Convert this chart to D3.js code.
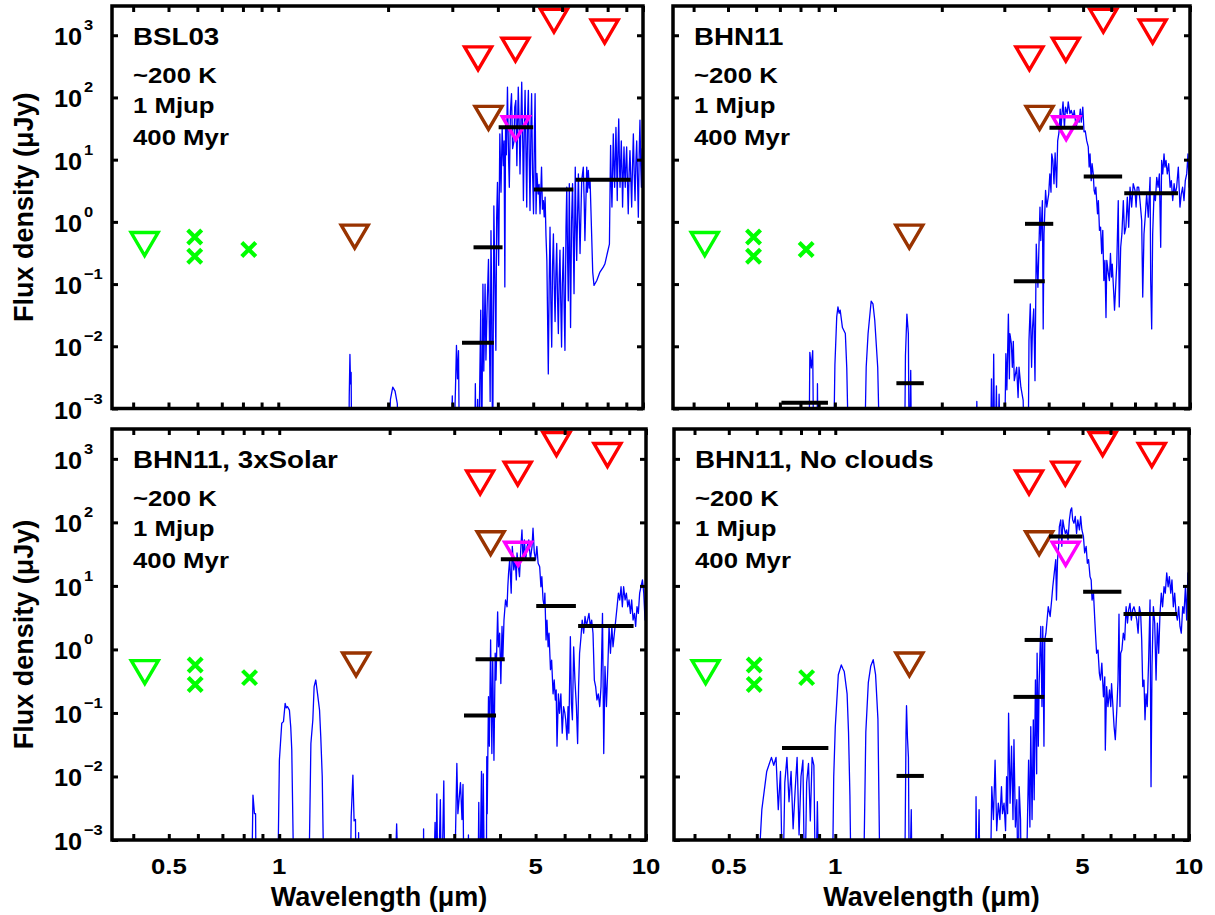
<!DOCTYPE html>
<html><head><meta charset="utf-8">
<script src="https://cdn.jsdelivr.net/npm/d3@7/dist/d3.min.js"></script>
<style>
body{margin:0;background:#fff}
text{font-family:"Liberation Sans",Arial,Helvetica,sans-serif;font-weight:bold;fill:#000}
</style>
</head><body>
<svg id="c" width="1215" height="915"></svg>
<script>
// ---------------- data ----------------
const panelTitles = ["BSL03", "BHN11", "BHN11, 3xSolar", "BHN11, No clouds"];
const infoLines = ["~200 K", "1 Mjup", "400 Myr"];
const xTickLabels = [0.5, 1, 5, 10];
const xTickMarks = [0.4,0.5,0.6,0.7,0.8,0.9,1,2,3,4,5,6,7,8,9,10];
const yTickExps = [-3, -2, -1, 0, 1, 2, 3];

// observed limits / detections (wavelength um, flux uJy)
const opticalLimitWl = [0.43], opticalLimitFlux = [0.44];
const opticalDetWl = [0.59, 0.59, 0.83], opticalDetFlux = [0.57, 0.28, 0.36];
const nirLimitWl = [1.62, 3.77], nirLimitFlux = [0.58, 47];
const iracLimitWl = [3.53, 4.47, 5.70, 7.85], iracLimitFlux = [424, 585, 1710, 1147];
const mLimitWl = [4.48], mLimitFlux = [32];

// filter bands for model band fluxes
const bandLo = [0.707, 1.49, 3.19, 3.43, 4.02, 5.02, 6.53];
const bandHi = [0.956, 1.78, 3.90, 4.12, 5.00, 6.44, 9.25];
const bandFluxBSL03   = [null, null, 0.0114, 0.39, 33.3, 3.32, 4.75];
const bandFluxBHN11   = [0.00124, 0.00255, 0.111, 0.93, 32.6, 5.37, 2.89];
const bandFlux3xSolar = [null, null, 0.091, 0.70, 26.3, 4.84, 2.34];
const bandFluxNoCloud = [0.028, 0.0102, 0.179, 1.41, 59.8, 8.1, 3.62];

// model spectra [wavelength um, flux uJy]; 1e-4 = below plotted range
const specBSL03 = [
[1.50,1e-4],[1.56,1e-4],[1.565,0.0015],[1.572,0.0074],[1.578,0.0025],[1.584,0.0038],[1.59,1e-4],
[2.0,1e-4],[2.03,0.0014],[2.06,0.0022],[2.09,0.0019],[2.12,0.0012],[2.14,1e-4],
[2.97,1e-4],[3.0,0.0016],[3.02,1e-4],[3.06,0.002],[3.08,0.0103],[3.1,0.003],[3.12,0.0085],[3.14,1e-4],
[3.45,1e-4],[3.47,0.0025],[3.49,1e-4],[3.52,0.0014],[3.54,1e-4],
[3.59,0.038],[3.61,1e-4],[3.64,0.1],[3.66,0.004],[3.69,0.1],[3.71,0.006],[3.74,0.05],[3.77,0.25],[3.79,0.02],[3.81,0.0013],[3.83,0.72],[3.85,0.03],[3.87,1e-4],[3.9,1.8],[3.92,0.2],[3.95,0.0086],[3.97,1.2],[3.99,4.3],[4.02,0.2],[4.05,26],[4.08,3],[4.11,33],[4.14,8],[4.16,20],[4.18,0.09],[4.2,40],[4.22,12],[4.25,147],[4.28,10],[4.30,3.6],[4.33,60],[4.36,115],[4.39,15],[4.43,20],[4.45,70],[4.48,90],[4.51,8],[4.55,147],[4.58,30],[4.60,5.9],[4.63,50],[4.65,176],[4.68,20],[4.70,2.2],[4.73,40],[4.75,130],[4.78,10],[4.80,1.73],[4.83,60],[4.85,130],[4.88,8],[4.90,1.52],[4.93,40],[4.95,115],[4.98,6],[5.01,1.35],[5.04,30],[5.06,115],[5.09,1.35],[5.12,6],[5.16,2.8],[5.19,4],[5.22,1.35],[5.27,7.6],[5.30,1.6],[5.33,2.2],[5.36,1.2],[5.39,2.5],[5.42,0.6],[5.45,0.24],[5.50,0.0036],[5.53,0.1],[5.56,0.82],[5.59,0.05],[5.62,0.0097],[5.65,0.2],[5.68,0.64],[5.71,0.1],[5.74,0.025],[5.77,0.15],[5.80,0.45],[5.83,0.06],[5.86,0.016],[5.89,0.12],[5.92,0.35],[5.95,0.05],[5.98,0.0097],[6.01,0.1],[6.05,0.39],[6.08,0.04],[6.11,0.0086],[6.15,0.8],[6.18,3.6],[6.21,0.3],[6.24,0.054],[6.28,4.1],[6.30,0.5],[6.33,0.02],[6.37,1],[6.41,4.1],[6.44,0.5],[6.47,0.07],[6.52,7.6],[6.55,1],[6.58,0.24],[6.65,5.9],[6.68,1.5],[6.72,0.31],[6.79,4.6],[6.86,7.6],[6.90,2],[6.93,0.5],[7.01,7.6],[7.04,3],[7.08,6.7],[7.12,3.5],[7.16,4.6],[7.20,1.5],[7.23,0.64],[7.28,0.156],[7.34,0.095],[7.47,0.114],[7.62,0.156],[7.78,0.187],[7.86,0.21],[7.98,0.31],[8.09,0.44],[8.12,3],[8.15,17],[8.18,5],[8.22,1.73],[8.26,8],[8.29,26],[8.32,10],[8.36,3.6],[8.40,12],[8.43,33],[8.47,8],[8.50,2.2],[8.54,15],[8.58,45],[8.61,12],[8.65,3.6],[8.68,8],[8.72,20],[8.76,6],[8.79,1.73],[8.83,6],[8.87,16],[8.90,7],[8.94,3.6],[8.98,9],[9.02,16],[9.06,5],[9.11,1.35],[9.16,6],[9.21,14],[9.26,5],[9.31,1.73],[9.36,8],[9.41,26],[9.46,6],[9.51,2.2],[9.56,9],[9.61,20],[9.66,5],[9.71,1.19],[9.76,12],[9.81,43],[9.86,8],[9.9,3.6],[9.95,15],[10.0,10]
];

const specBHN11 = [
[0.78,1e-4],[0.795,1e-4],[0.80,0.0012],[0.805,1e-4],
[0.845,1e-4],[0.85,0.008],[0.858,0.0045],[0.866,0.0085],[0.872,1e-4],
[0.89,1e-4],[0.893,0.0025],[0.897,1e-4],
[0.99,1e-4],[1.0,0.005],[1.012,0.03],[1.02,0.043],[1.028,0.034],[1.035,0.038],[1.05,0.02],[1.07,0.016],[1.08,0.0045],[1.095,1e-4],
[1.21,1e-4],[1.225,0.0046],[1.24,0.016],[1.265,0.053],[1.28,0.048],[1.295,0.026],[1.32,0.0046],[1.34,1e-4],
[1.57,1e-4],[1.58,0.007],[1.595,0.033],[1.61,0.016],[1.62,1e-4],[1.635,0.0041],[1.645,1e-4],
[2.49,1e-4],[2.51,0.0013],[2.53,1e-4],
[2.74,1e-4],[2.76,0.003],[2.78,1e-4],[2.80,0.0075],[2.82,1e-4],[2.85,0.0023],[2.87,1e-4],[2.9,0.0017],[2.93,1e-4],
[3.0,1e-4],[3.03,0.0076],[3.05,0.002],[3.08,0.033],[3.10,0.003],[3.11,0.016],[3.14,0.011],[3.16,0.0046],[3.18,0.012],[3.20,0.0028],[3.25,0.0046],[3.28,0.0015],[3.30,0.0046],[3.34,0.0022],[3.39,0.00135],[3.42,1e-4],[3.50,1e-4],
[3.52,0.0124],[3.55,0.048],[3.58,0.0046],[3.60,0.019],[3.63,0.04],[3.66,0.0028],[3.69,0.44],[3.73,0.089],[3.78,1.73],[3.80,0.5],[3.84,2.2],[3.86,0.019],[3.88,0.64],[3.92,3.2],[3.95,1.73],[4.0,2.8],[4.03,5.9],[4.06,3],[4.08,12.4],[4.11,9.7],[4.14,4.1],[4.17,12.8],[4.21,3.6],[4.24,20],[4.27,26],[4.29,33],[4.31,65],[4.33,29],[4.36,55],[4.39,85],[4.43,33],[4.46,70],[4.51,55],[4.54,85],[4.59,55],[4.63,62],[4.69,48],[4.72,62],[4.78,33],[4.82,43],[4.87,40],[4.91,65],[4.94,40],[4.99,70],[5.03,28],[5.07,29],[5.12,20],[5.17,16],[5.20,7.6],[5.23,12.4],[5.27,4.6],[5.30,8.6],[5.34,5.9],[5.37,3.2],[5.40,2.8],[5.43,3.6],[5.49,1.35],[5.52,2.2],[5.56,0.73],[5.60,0.82],[5.64,0.31],[5.68,0.73],[5.72,0.114],[5.76,0.24],[5.80,0.029],[5.83,0.24],[5.89,0.146],[5.93,0.114],[5.97,0.31],[6.01,0.13],[6.04,0.21],[6.10,0.07],[6.13,0.038],[6.22,0.21],[6.28,2.2],[6.32,0.043],[6.38,0.39],[6.43,0.64],[6.49,2.2],[6.54,0.64],[6.60,0.82],[6.66,2.5],[6.72,0.82],[6.78,3.6],[6.85,1.73],[6.92,4.1],[7.00,3.2],[7.05,1.73],[7.10,3.6],[7.17,3.6],[7.23,2.2],[7.31,1.05],[7.36,0.062],[7.42,0.64],[7.49,1.35],[7.55,2.8],[7.63,1.19],[7.72,5.2],[7.75,0.114],[7.80,0.019],[7.85,0.64],[7.92,2.8],[7.99,2.2],[8.06,5.2],[8.13,3.6],[8.20,5.9],[8.27,0.39],[8.32,9.7],[8.38,5.9],[8.45,12.4],[8.50,7.6],[8.56,9.7],[8.63,5.9],[8.71,8.6],[8.79,3.6],[8.86,4.6],[8.94,2.2],[9.02,4.1],[9.09,2.8],[9.17,3.6],[9.27,7.6],[9.37,1.73],[9.45,2.8],[9.53,3.6],[9.62,2.2],[9.70,4.6],[9.79,5.9],[9.87,12.4],[9.95,3.6],[10.0,7.6]
];

const spec3xSolar = [
[0.84,1e-4],[0.848,0.0051],[0.856,0.0026],[0.862,0.0026],[0.866,1e-4],
[0.989,1e-4],[1.001,0.018],[1.016,0.069],[1.027,0.073],[1.038,0.142],[1.045,0.12],[1.053,0.126],[1.066,0.111],[1.075,0.06],[1.082,0.026],[1.098,1e-4],
[1.202,1e-4],[1.22,0.033],[1.235,0.078],[1.245,0.26],[1.258,0.33],[1.272,0.2],[1.288,0.111],[1.298,0.042],[1.31,0.01],[1.326,1e-4],
[1.561,1e-4],[1.571,0.0023],[1.588,0.0105],[1.60,0.002],[1.614,0.0021],[1.62,1e-4],[1.64,1e-4],[1.646,0.0013],[1.652,1e-4],
[2.06,1e-4],[2.09,0.0018],[2.12,1e-4],
[2.47,1e-4],[2.475,0.0015],[2.48,1e-4],
[2.63,1e-4],[2.66,0.0019],[2.67,1e-4],[2.69,0.0053],[2.71,1e-4],[2.75,0.0043],[2.77,1e-4],[2.81,0.0085],[2.83,1e-4],
[3.0,1e-4],[3.05,0.016],[3.07,0.0026],[3.12,0.008],[3.15,0.0021],[3.17,0.0075],[3.19,1e-4],
[3.27,1e-4],[3.28,0.0012],[3.29,1e-4],
[3.48,1e-4],[3.50,0.0039],[3.52,1e-4],[3.56,0.012],[3.58,1e-4],[3.60,0.011],[3.63,1e-4],
[3.67,1e-4],[3.68,0.0205],[3.69,0.0026],[3.72,0.18],[3.74,0.03],[3.77,1.41],[3.80,0.023],[3.82,0.68],[3.85,0.018],[3.88,0.87],[3.90,0.33],[3.94,3.9],[3.96,1.1],[3.99,1.8],[4.02,0.29],[4.05,2.3],[4.07,0.68],[4.10,2.9],[4.14,6.0],[4.18,4.7],[4.20,9.7],[4.22,16],[4.25,26],[4.29,7.7],[4.32,42],[4.36,17.9],[4.40,26],[4.43,12.4],[4.45,33],[4.49,20],[4.52,14],[4.56,42],[4.59,76],[4.62,26],[4.66,53],[4.70,26],[4.74,42],[4.79,53],[4.84,26],[4.89,42],[4.92,81],[4.96,33],[5.0,26],[5.04,42],[5.08,22.7],[5.13,20],[5.17,9.7],[5.20,14],[5.24,6.0],[5.28,4.7],[5.30,7.7],[5.34,1.41],[5.37,2.9],[5.41,1.1],[5.44,1.8],[5.49,0.48],[5.53,0.68],[5.58,0.20],[5.62,0.33],[5.66,0.16],[5.69,0.23],[5.72,0.03],[5.77,0.2],[5.81,0.099],[5.86,0.2],[5.91,0.048],[5.96,0.126],[6.01,0.099],[6.04,0.078],[6.09,0.038],[6.13,0.126],[6.16,0.048],[6.22,1.59],[6.26,0.142],[6.30,0.078],[6.35,1.1],[6.40,0.33],[6.46,0.126],[6.51,0.033],[6.55,0.26],[6.59,0.87],[6.65,1.59],[6.70,2.9],[6.76,1.8],[6.82,3.3],[6.88,2.3],[6.93,2.9],[6.99,3.7],[7.05,2.3],[7.11,2.9],[7.17,1.8],[7.23,0.33],[7.29,0.26],[7.35,0.16],[7.41,0.2],[7.48,0.126],[7.54,0.26],[7.61,3.7],[7.67,0.023],[7.73,0.54],[7.80,0.126],[7.87,0.54],[7.93,2.3],[8.00,0.87],[8.07,2.3],[8.13,1.1],[8.20,1.8],[8.27,2.9],[8.34,4.7],[8.41,7.7],[8.48,6.0],[8.55,9.7],[8.62,4.7],[8.69,9.7],[8.77,6.0],[8.84,7.7],[8.92,4.7],[8.99,6.0],[9.07,3.7],[9.14,6.0],[9.22,2.9],[9.30,3.7],[9.37,2.3],[9.45,4.7],[9.53,3.7],[9.61,7.7],[9.69,9.7],[9.78,12.4],[9.86,7.7],[9.94,2.9],[10.0,12.4]
];

const specNoClouds = [
[0.60,1e-4],[0.62,0.003],[0.64,0.012],[0.66,0.02],[0.67,0.015],[0.68,0.02],[0.69,0.003],[0.70,0.012],[0.71,1e-4],[0.72,0.008],[0.73,0.02],[0.74,0.004],[0.75,0.012],[0.76,0.0015],[0.77,0.006],[0.78,0.02],[0.79,0.0012],[0.80,0.01],[0.81,0.018],[0.82,1e-4],[0.83,0.008],[0.84,0.016],[0.85,0.002],[0.86,0.02],[0.87,0.015],[0.88,1e-4],[0.89,0.004],[0.9,1e-4],
[0.98,1e-4],[0.99,0.01],[1.0,0.06],[1.02,0.4],[1.04,0.57],[1.05,0.5],[1.06,0.45],[1.08,0.2],[1.09,0.05],[1.1,0.005],[1.11,1e-4],
[1.2,1e-4],[1.22,0.05],[1.24,0.3],[1.26,0.55],[1.28,0.69],[1.30,0.4],[1.32,0.08],[1.34,1e-4],
[1.57,1e-4],[1.585,0.05],[1.59,0.13],[1.60,0.04],[1.61,0.02],[1.62,1e-4],[1.64,0.003],[1.65,1e-4],
[2.49,1e-4],[2.50,0.0048],[2.52,1e-4],[2.55,0.003],[2.57,1e-4],
[2.74,1e-4],[2.77,0.0069],[2.80,0.0021],[2.83,0.018],[2.86,0.0014],[2.89,0.0038],[2.92,0.0021],[2.95,0.0069],[2.97,0.0026],[3.0,0.0038],[3.03,0.0014],[3.05,0.0099],[3.07,0.0026],[3.09,0.099],[3.12,0.0038],[3.15,0.03],[3.18,0.0021],[3.20,0.038],[3.23,0.0016],[3.26,0.0043],[3.29,1e-4],[3.31,0.0069],[3.34,0.0021],[3.36,1e-4],
[3.46,1e-4],[3.49,0.0014],[3.52,0.018],[3.55,0.0016],[3.57,0.061],[3.60,0.0021],[3.63,0.078],[3.65,0.0043],[3.68,0.33],[3.71,0.011],[3.72,0.87],[3.75,0.03],[3.77,0.29],[3.79,0.87],[3.81,2.3],[3.84,0.126],[3.86,2.3],[3.89,0.03],[3.91,1.41],[3.94,1.8],[3.97,2.9],[4.0,4.7],[4.05,3.3],[4.09,6.0],[4.12,9.7],[4.16,16],[4.20,26],[4.22,6.0],[4.25,26],[4.28,42],[4.30,86],[4.34,109],[4.37,42],[4.40,109],[4.43,86],[4.47,67],[4.51,76],[4.55,53],[4.59,109],[4.63,157],[4.66,169],[4.69,109],[4.73,97],[4.77,124],[4.81,67],[4.85,109],[4.90,76],[4.94,124],[4.98,76],[5.03,60],[5.07,33],[5.12,42],[5.16,22.7],[5.20,26],[5.25,14],[5.29,12.4],[5.32,6.0],[5.37,7.7],[5.41,3.3],[5.44,1.8],[5.48,0.87],[5.53,0.98],[5.58,0.42],[5.62,0.33],[5.67,0.61],[5.73,0.18],[5.78,0.37],[5.80,0.026],[5.85,0.26],[5.90,0.126],[5.96,0.23],[6.01,0.126],[6.04,0.29],[6.08,0.16],[6.14,0.061],[6.19,0.038],[6.25,0.111],[6.30,0.33],[6.34,3.6],[6.38,0.126],[6.41,0.87],[6.46,0.98],[6.52,1.8],[6.58,1.41],[6.64,4.7],[6.70,2.6],[6.75,4.2],[6.81,5.3],[6.87,2.9],[6.93,4.2],[6.99,4.7],[7.06,3.7],[7.12,2.9],[7.18,1.8],[7.24,4.7],[7.30,3.7],[7.35,1.41],[7.40,0.26],[7.46,0.33],[7.51,0.078],[7.56,0.2],[7.62,0.126],[7.69,0.68],[7.76,6.0],[7.81,0.0069],[7.86,0.54],[7.93,4.7],[8.00,2.6],[8.07,0.33],[8.14,2.6],[8.21,0.87],[8.28,3.7],[8.35,7.7],[8.42,4.7],[8.50,9.7],[8.57,7.7],[8.65,16],[8.73,9.7],[8.80,14],[8.88,7.7],[8.95,12.4],[9.03,4.7],[9.11,7.7],[9.19,3.7],[9.27,2.9],[9.35,4.7],[9.43,2.3],[9.51,1.8],[9.60,4.7],[9.68,3.7],[9.77,9.7],[9.85,2.9],[9.93,16],[10.0,4.7]
];

// ---------------- layout / drawing ----------------
const spectra = [specBSL03, specBHN11, spec3xSolar, specNoClouds];
const bandFluxes = [bandFluxBSL03, bandFluxBHN11, bandFlux3xSolar, bandFluxNoCloud];
const layout = [
  {x0:112, x1:643, y0:6,   y1:408.5, left:true,  bottom:false},
  {x0:673, x1:1190, y0:6,  y1:408.5, left:false, bottom:false},
  {x0:112, x1:646, y0:429, y1:840,   left:true,  bottom:true},
  {x0:674, x1:1189, y0:429, y1:840,  left:false, bottom:true}
];
const BLUE = "#0000ff", GREEN = "#00ff00", BROWN = "#993300", RED = "#ff0000", MAGENTA = "#ff00ff";
const triPath = "M-13.5,-11.5L13.5,-11.5L0,11.5Z";
const crossPath = "M-7,-7L7,7M-7,7L7,-7";

const svg = d3.select("#c");
const defs = svg.append("defs");
const yTop = Math.pow(10, 3.47);

// text helper: horizontally widened bold text like the original figure
function addText(g, x, y, str, size, anchor, sx) {
  return g.append("text")
    .attr("transform", `translate(${x},${y}) scale(${sx},1)`)
    .attr("text-anchor", anchor).attr("font-size", size).text(str);
}

layout.forEach((p, i) => {
  const x = d3.scaleLog().domain([0.35, 10]).range([p.x0, p.x1]);
  const y = d3.scaleLog().domain([1e-3, yTop]).range([p.y1, p.y0]);
  const g = svg.append("g");

  defs.append("clipPath").attr("id", "clip" + i).append("rect")
    .attr("x", p.x0).attr("y", p.y0).attr("width", p.x1 - p.x0).attr("height", p.y1 - p.y0);

  // spectrum
  const line = d3.line().x(d => x(d[0])).y(d => y(Math.max(d[1], 1e-5)));
  g.append("path").datum(spectra[i]).attr("d", line)
    .attr("clip-path", `url(#clip${i})`)
    .attr("fill", "none").attr("stroke", BLUE).attr("stroke-width", 1.3)
    .attr("stroke-linejoin", "round");

  // markers
  const tri = (wl, fl, col) => {
    g.selectAll(null).data(d3.zip(wl, fl)).join("path")
      .attr("d", triPath)
      .attr("transform", d => `translate(${x(d[0])},${y(d[1])})`)
      .attr("fill", "none").attr("stroke", col).attr("stroke-width", 3.4)
      .attr("stroke-linejoin", "miter");
  };
  tri(opticalLimitWl, opticalLimitFlux, GREEN);
  g.selectAll(null).data(d3.zip(opticalDetWl, opticalDetFlux)).join("path")
    .attr("d", crossPath)
    .attr("transform", d => `translate(${x(d[0])},${y(d[1])})`)
    .attr("fill", "none").attr("stroke", GREEN).attr("stroke-width", 4.2);
  tri(nirLimitWl, nirLimitFlux, BROWN);
  tri(iracLimitWl, iracLimitFlux, RED);
  tri(mLimitWl, mLimitFlux, MAGENTA);

  // model band fluxes
  const bars = bandLo.map((lo, k) => ({lo, hi: bandHi[k], f: bandFluxes[i][k]})).filter(d => d.f !== null);
  g.selectAll(null).data(bars).join("line")
    .attr("x1", d => x(d.lo)).attr("x2", d => x(d.hi))
    .attr("y1", d => y(d.f)).attr("y2", d => y(d.f))
    .attr("stroke", "#000").attr("stroke-width", 4);

  // ticks (inside, all four sides)
  const styleAxis = sel => {
    sel.select(".domain").remove();
    sel.selectAll(".tick line").attr("stroke", "#000").attr("stroke-width", 3);
    sel.selectAll(".tick text").remove();
  };
  g.append("g").attr("transform", `translate(0,${p.y1})`)
    .call(d3.axisBottom(x).tickValues(xTickMarks).tickSize(-6).tickFormat("")).call(styleAxis);
  g.append("g").attr("transform", `translate(0,${p.y0})`)
    .call(d3.axisTop(x).tickValues(xTickMarks).tickSize(-6).tickFormat("")).call(styleAxis);
  const yTicks = yTickExps.map(e => Math.pow(10, e));
  g.append("g").attr("transform", `translate(${p.x0},0)`)
    .call(d3.axisLeft(y).tickValues(yTicks).tickSize(-6).tickFormat("")).call(styleAxis);
  g.append("g").attr("transform", `translate(${p.x1},0)`)
    .call(d3.axisRight(y).tickValues(yTicks).tickSize(-6).tickFormat("")).call(styleAxis);

  // frame
  g.append("rect").attr("x", p.x0).attr("y", p.y0)
    .attr("width", p.x1 - p.x0).attr("height", p.y1 - p.y0)
    .attr("fill", "none").attr("stroke", "#000").attr("stroke-width", 3.5);

  // panel texts
  addText(g, p.x0 + 21, p.y0 + 39, panelTitles[i], 23.5, "start", 1.18);
  const lineOffsets = [77, 107, 139];
  infoLines.forEach((t, k) => addText(g, p.x0 + 21, p.y0 + lineOffsets[k], t, 23, "start", 1.12));

  // y tick labels + label
  if (p.left) {
    yTickExps.forEach(e => {
      const yy = y(Math.pow(10, e));
      addText(g, 82, yy + 10, "10", 23, "end", 1.1);
      addText(g, 84, yy - 5, e < 0 ? "\u2212" + Math.abs(e) : String(e), 15, "start", 1.1);
    });
    g.append("text")
      .attr("transform", `translate(33,${(p.y0 + p.y1) / 2}) rotate(-90)`)
      .attr("text-anchor", "middle").attr("font-size", 27)
      .text("Flux density (\u03bcJy)");
  }
  // x tick labels + label
  if (p.bottom) {
    xTickLabels.forEach(v => addText(g, x(v), p.y1 + 34, String(v), 23, "middle", 1.12));
    g.append("text").attr("x", (p.x0 + p.x1) / 2).attr("y", 906)
      .attr("text-anchor", "middle").attr("font-size", 27)
      .text("Wavelength (\u03bcm)");
  }
});
</script>
</body></html>
